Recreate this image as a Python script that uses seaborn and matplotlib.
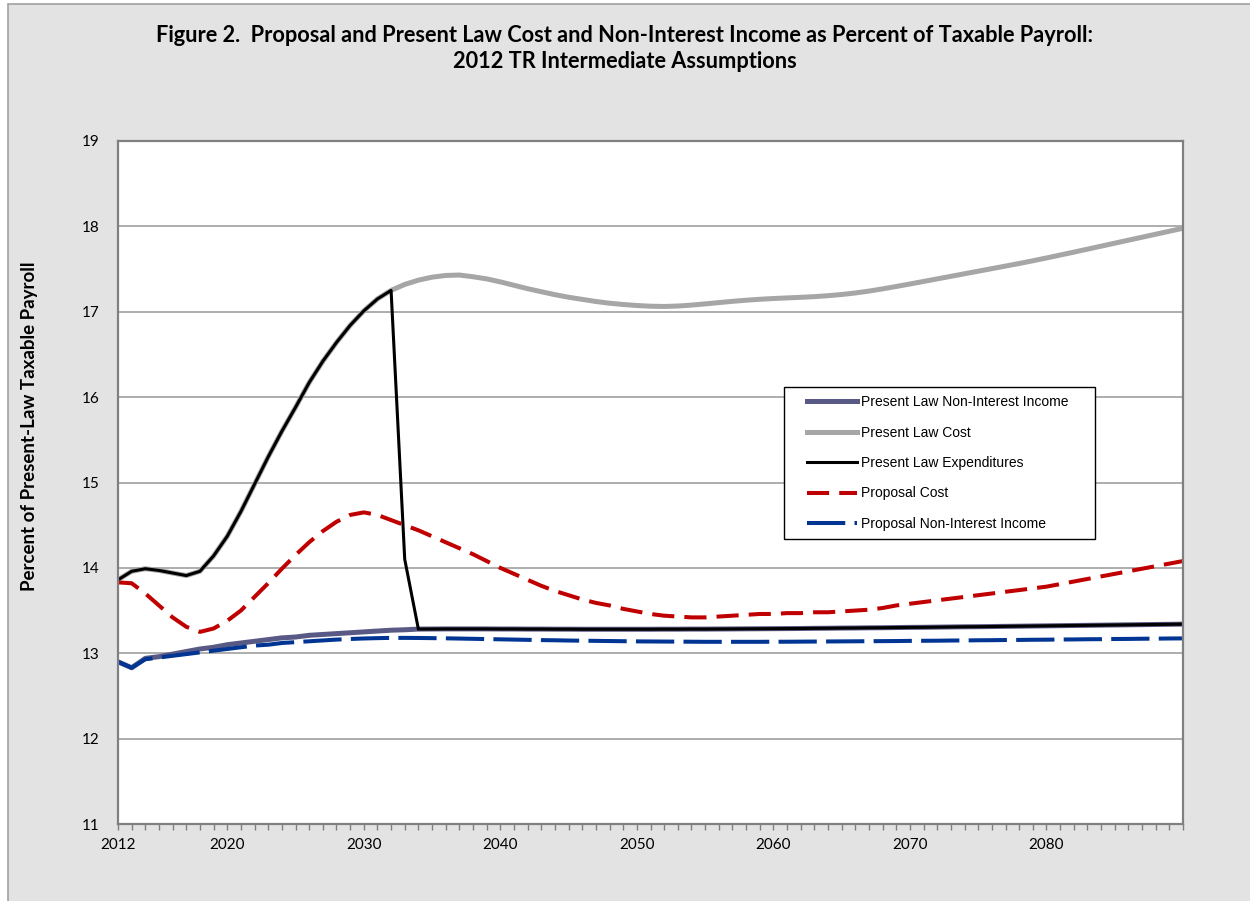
import matplotlib
matplotlib.use("Agg")
import matplotlib.pyplot as plt
import seaborn as sns
import pandas as pd
from matplotlib.patches import Rectangle
from matplotlib.lines import Line2D
from matplotlib.legend_handler import HandlerLine2D

# years 2012-2090
years = list(range(2012, 2091))

present_income = [
    12.90, 12.83, 12.94, 12.96, 12.99, 13.02, 13.05, 13.07, 13.10, 13.12,
    13.14, 13.16, 13.18, 13.19, 13.21, 13.22, 13.23, 13.24, 13.25, 13.26,
    13.27, 13.275,
    13.283, 13.284, 13.285, 13.285, 13.285, 13.285, 13.284, 13.284, 13.283, 13.283,
    13.282, 13.282, 13.281, 13.281, 13.281, 13.281, 13.281, 13.281, 13.282, 13.282,
    13.283, 13.283, 13.284, 13.285, 13.286, 13.287, 13.288, 13.289, 13.290, 13.292,
    13.293, 13.295, 13.296, 13.298, 13.299, 13.301, 13.303, 13.304, 13.306, 13.308,
    13.310, 13.311, 13.313, 13.315, 13.317, 13.319, 13.321, 13.323, 13.325, 13.327,
    13.329, 13.331, 13.333, 13.335, 13.337, 13.339, 13.341,
]

# expenditures up to 2033; after trust fund depletion they follow income
expend_early = [
    13.86, 13.96, 13.99, 13.97, 13.94, 13.91, 13.96, 14.14, 14.37, 14.66,
    14.98, 15.30, 15.60, 15.88, 16.17, 16.42, 16.64, 16.84, 17.01, 17.15,
    17.25, 14.10,
]
present_expend = expend_early + present_income[22:]

# cost after 2032 (before that it is the same as expenditures)
cost_late = [
    17.32, 17.37, 17.405, 17.425, 17.43, 17.41, 17.385, 17.35, 17.31, 17.27,
    17.235, 17.20, 17.17, 17.145, 17.12, 17.10, 17.085, 17.073, 17.065, 17.062,
    17.067, 17.078, 17.092, 17.107, 17.122, 17.135, 17.146, 17.155, 17.162, 17.169,
    17.177, 17.188, 17.202, 17.220, 17.242, 17.268, 17.296, 17.325, 17.355, 17.385,
    17.415, 17.445, 17.475, 17.505, 17.535, 17.565, 17.597, 17.630, 17.664, 17.698,
    17.733, 17.768, 17.803, 17.838, 17.873, 17.908, 17.943, 17.978,
]
present_cost = expend_early[:21] + cost_late

proposal_cost = [
    13.83, 13.82, 13.70, 13.56, 13.42, 13.31, 13.25, 13.29, 13.38, 13.50,
    13.66, 13.82, 13.99, 14.15, 14.30, 14.43, 14.54, 14.62, 14.65, 14.62,
    14.56, 14.50, 14.44, 14.37, 14.30, 14.23, 14.16, 14.08, 14.00, 13.93,
    13.86, 13.79, 13.73, 13.68, 13.63, 13.59, 13.56, 13.52, 13.49, 13.46,
    13.44, 13.43, 13.42, 13.42, 13.43, 13.44, 13.45, 13.46, 13.46, 13.47,
    13.47, 13.48, 13.48, 13.49, 13.50, 13.51, 13.53, 13.56, 13.58, 13.60,
    13.62, 13.64, 13.66, 13.68, 13.70, 13.72, 13.74, 13.76, 13.78, 13.81,
    13.84, 13.87, 13.90, 13.93, 13.96, 13.99, 14.02, 14.05, 14.08,
]

proposal_income = [
    12.90, 12.83, 12.93, 12.95, 12.97, 12.99, 13.01, 13.03, 13.05, 13.07,
    13.09, 13.10, 13.12, 13.13, 13.14, 13.15, 13.160, 13.167, 13.173, 13.177,
    13.180, 13.180, 13.179, 13.177, 13.175, 13.172, 13.169, 13.166, 13.163, 13.160,
    13.157, 13.154, 13.152, 13.149, 13.147, 13.145, 13.143, 13.141, 13.139, 13.138,
    13.137, 13.136, 13.135, 13.134, 13.134, 13.134, 13.134, 13.134, 13.135, 13.135,
    13.136, 13.137, 13.138, 13.139, 13.140, 13.141, 13.142, 13.143, 13.145, 13.146,
    13.147, 13.149, 13.150, 13.152, 13.153, 13.155, 13.156, 13.158, 13.159, 13.161,
    13.162, 13.164, 13.165, 13.167, 13.168, 13.170, 13.171, 13.173, 13.174,
]

x_labels = {2012: "2012", 2020: "2020", 2030: "2030", 2040: "2040",
            2050: "2050", 2060: "2060", 2070: "2070", 2080: "2080"}

for s in [present_income, present_expend, present_cost, proposal_cost, proposal_income]:
    assert len(s) == len(years), len(s)

df = pd.DataFrame({
    "year": years,
    "Present Law Non-Interest Income": present_income,
    "Present Law Cost": present_cost,
    "Present Law Expenditures": present_expend,
    "Proposal Cost": proposal_cost,
    "Proposal Non-Interest Income": proposal_income,
})

plt.rcParams["font.family"] = ["Lato", "DejaVu Sans"]

fig = plt.figure(figsize=(12.5, 9.01), dpi=100, facecolor="white")
# grey panel with border like the source sheet
fig.patches.append(Rectangle((7.5 / 1250, -0.05), 1.2, 1.05 - 4 / 901,
                             transform=fig.transFigure, facecolor="#e3e3e3",
                             edgecolor="#a0a0a0", linewidth=1.2, zorder=-10))

ax = fig.add_axes([118 / 1250, 77 / 901, 1065 / 1250, 683 / 901])
ax.set_facecolor("white")

styles = [
    ("Present Law Non-Interest Income", "#595985", 3.6, "-"),
    ("Present Law Cost", "#a6a6a6", 3.6, "-"),
    ("Present Law Expenditures", "#000000", 2.2, "-"),
    ("Proposal Cost", "#c00000", 2.9, (0, (5.5, 2.5))),
    ("Proposal Non-Interest Income", "#003593", 2.9, (0, (9.5, 2.3))),
]
for name, col, lw, ls in styles:
    sns.lineplot(data=df, x="year", y=name, ax=ax, color=col, linewidth=lw,
                 linestyle=ls, label=name)

ax.set_xlim(2012, 2090)
ax.set_ylim(11, 19)
ax.set_yticks(range(11, 20))
ax.set_xticks(years, [x_labels.get(y, "") for y in years])
ax.tick_params(axis="x", direction="out", length=4, width=1, color="#808080",
               labelsize=11, pad=6)
ax.tick_params(axis="y", length=0, labelsize=11, pad=13)
ax.grid(axis="y", color="#a0a0a0", linewidth=1.2)
ax.grid(axis="x", visible=False)
ax.set_axisbelow(True)
for sp in ax.spines.values():
    sp.set_color("#808080")
    sp.set_linewidth(1.6)
ax.set_xlabel("")
ax.set_ylabel("")

fig.text(30 / 1250, 1 - 426 / 901, "Percent of Present-Law Taxable Payroll",
         rotation=90, ha="center", va="center", fontsize=13.5, fontweight="bold")

fig.text(0.5, 1 - 36 / 901,
         "Figure 2.  Proposal and Present Law Cost and Non-Interest Income as Percent of Taxable Payroll:",
         ha="center", va="center", fontsize=15.7, fontweight="bold")
fig.text(0.5, 1 - 62 / 901, "2012 TR Intermediate Assumptions",
         ha="center", va="center", fontsize=15.7, fontweight="bold")

leg_x = (784 - 118) / 1065
leg_top = (824 - 387) / 683
leg_w = (1095 - 784) / 1065
leg_h = (539 - 387) / 683
leg = ax.legend(loc="upper left", bbox_to_anchor=(leg_x, leg_top - leg_h, leg_w, leg_h),
                mode="expand", borderaxespad=0, fancybox=False, framealpha=1,
                edgecolor="black", prop={"family": "Liberation Sans", "size": 10},
                handlelength=4.66, handletextpad=0.27, labelspacing=1.18,
                borderpad=0.6, handler_map={Line2D: HandlerLine2D(xpad=1.06)})
leg.get_frame().set_linewidth(1.0)

fig.savefig("out.png", dpi=100, facecolor=fig.get_facecolor())
